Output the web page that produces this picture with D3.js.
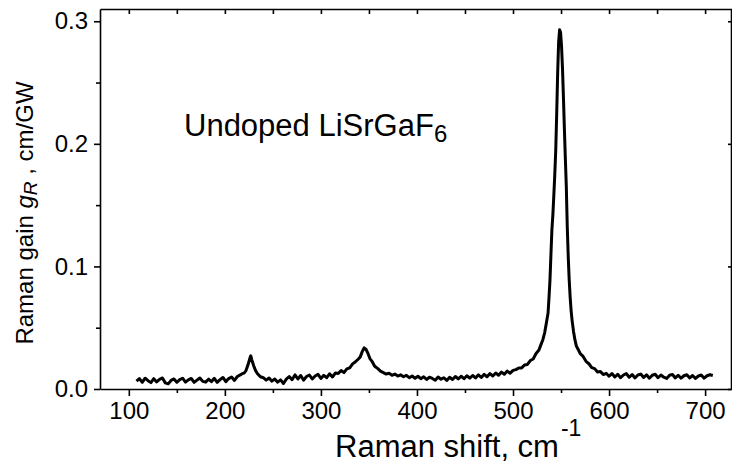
<!DOCTYPE html>
<html>
<head>
<meta charset="utf-8">
<script src="https://cdn.jsdelivr.net/npm/d3@7"></script>
<style>
  html, body { margin: 0; padding: 0; background: #fff; }
  svg { display: block; font-family: "Liberation Sans", Arial, sans-serif; }
</style>
</head>
<body>
<svg id="chart" width="732" height="467"></svg>
<script>
// ---- data ----
const shift = [
  108,111,114,117,120,123,126,129,132,135,138,141,144,147,150,153,156,159,162,165,
  168,171,174,177,180,183,186,189,192,195,198,201,204,207,210,213,216,218,220,222,
  224,226,227,228,230,232,234,237,240,243,246,249,252,255,258,261,264,267,270,273,
  276,279,282,285,288,291,294,297,300,303,306,309,312,315,318,321,324,327,330,333,
  336,339,341,343,345,347,349,351,353,356,359,362,365,368,371,374,377,380,383,386,
  389,392,395,398,401,404,407,410,413,416,419,422,425,428,431,434,437,440,443,446,
  449,452,455,458,461,464,467,470,473,476,479,482,485,488,491,494,497,500,503,506,
  509,512,515,518,521,524,527,529,531,533,535,536.5,537.5,538.5,539.5,540.5,541.5,542.5,543.5,544.5,
  545.5,546.5,547.5,548.5,549.5,550.5,551.5,552.5,553.5,554.5,555.5,556.5,557.5,558.5,559.5,560.5,561.5,563,564.5,566,
  568,570,573,576,579,582,585,588,591,594,597,600,603,606,609,612,615,618,621,624,
  627,630,633,636,639,642,645,648,651,654,657,660,663,666,669,672,675,678,681,684,
  687,690,693,696,699,702,705,708
];
const gain = [
  0.0065,0.0085,0.0055,0.0088,0.0068,0.0052,0.0084,0.0058,0.0079,0.0090,0.0050,0.0042,0.0070,0.0082,0.0055,0.0076,0.0088,0.0056,0.0074,0.0086,
  0.0054,0.0072,0.0090,0.0062,0.0056,0.0080,0.0060,0.0087,0.0054,0.0076,0.0094,0.0060,0.0085,0.0098,0.0070,0.0102,0.0115,0.0125,0.0130,0.0150,
  0.0195,0.0250,0.0270,0.0240,0.0190,0.0150,0.0125,0.0100,0.0092,0.0072,0.0090,0.0064,0.0082,0.0056,0.0074,0.0045,0.0080,0.0102,0.0076,0.0115,
  0.0082,0.0110,0.0072,0.0102,0.0114,0.0082,0.0106,0.0120,0.0086,0.0112,0.0092,0.0124,0.0098,0.0130,0.0126,0.0150,0.0134,0.0164,0.0172,0.0205,
  0.0222,0.0245,0.0262,0.0305,0.0335,0.0322,0.0290,0.0248,0.0228,0.0186,0.0168,0.0146,0.0134,0.0122,0.0128,0.0112,0.0122,0.0106,0.0116,0.0100,
  0.0112,0.0092,0.0106,0.0088,0.0104,0.0084,0.0100,0.0078,0.0096,0.0086,0.0072,0.0098,0.0080,0.0092,0.0070,0.0096,0.0078,0.0102,0.0082,0.0104,
  0.0084,0.0108,0.0088,0.0110,0.0090,0.0116,0.0094,0.0120,0.0100,0.0126,0.0106,0.0130,0.0112,0.0138,0.0120,0.0146,0.0128,0.0152,0.0158,0.0172,
  0.0172,0.0196,0.0200,0.0232,0.0245,0.0290,0.0318,0.0360,0.0400,0.0460,0.0550,0.0620,0.0750,0.0890,0.1100,0.1300,0.1420,0.1580,0.1750,0.1950,
  0.2250,0.2580,0.2830,0.2930,0.2910,0.2800,0.2620,0.2380,0.2120,0.1880,0.1650,0.1320,0.1080,0.0890,0.0750,0.0640,0.0560,0.0470,0.0400,0.0350,
  0.0320,0.0288,0.0266,0.0226,0.0206,0.0174,0.0166,0.0138,0.0142,0.0118,0.0128,0.0104,0.0126,0.0098,0.0120,0.0092,0.0114,0.0126,0.0096,0.0118,
  0.0090,0.0114,0.0122,0.0094,0.0116,0.0088,0.0112,0.0120,0.0092,0.0114,0.0096,0.0086,0.0112,0.0118,0.0090,0.0112,0.0088,0.0108,0.0116,0.0090,
  0.0110,0.0086,0.0106,0.0114,0.0088,0.0108,0.0116,0.0110
];
const xMajorTicks = [100, 200, 300, 400, 500, 600, 700];
const xMinorTicks = [150, 250, 350, 450, 550, 650];
const yMajorTicks = [0.0, 0.1, 0.2, 0.3];
const yMinorTicks = [0.05, 0.15, 0.25];
const xDomain = [70, 728];
const yDomain = [0, 0.31];
const annotation = "Undoped LiSrGaF";
const annotationSub = "6";

// ---- layout ----
const svg = d3.select("#chart");
const mLeft = 100, mRight = 732, mTop = 9, mBottom = 389;
const x = d3.scaleLinear().domain(xDomain).range([mLeft, mRight]);
const y = d3.scaleLinear().domain(yDomain).range([mBottom, mTop]);
const fmt = d3.format(".1f");
const axisStroke = 1.6;

function styleAxis(g) {
  g.selectAll("path, line").attr("stroke", "#000").attr("stroke-width", axisStroke);
  g.selectAll("text").attr("fill", "#000").attr("font-size", 24)
   .attr("font-family", "'Liberation Sans', Arial, sans-serif");
}

// bottom major
svg.append("g").attr("transform", `translate(0,${mBottom})`)
  .call(d3.axisBottom(x).tickValues(xMajorTicks).tickSize(7).tickSizeOuter(0).tickPadding(6).tickFormat(d3.format("d")))
  .call(styleAxis);
// bottom minor
svg.append("g").attr("transform", `translate(0,${mBottom})`)
  .call(d3.axisBottom(x).tickValues(xMinorTicks).tickSize(4).tickFormat(""))
  .call(styleAxis).call(g => g.select(".domain").remove());
// top ticks (inward)
svg.append("g").attr("transform", `translate(0,${mTop})`)
  .call(d3.axisBottom(x).tickValues(xMajorTicks.concat(xMinorTicks)).tickSize(5).tickSizeOuter(0).tickFormat(""))
  .call(styleAxis);
// left major
svg.append("g").attr("transform", `translate(${mLeft},0)`)
  .call(d3.axisLeft(y).tickValues(yMajorTicks).tickSize(6).tickSizeOuter(0).tickPadding(6).tickFormat(fmt))
  .call(styleAxis);
// left minor
svg.append("g").attr("transform", `translate(${mLeft},0)`)
  .call(d3.axisLeft(y).tickValues(yMinorTicks).tickSize(4).tickFormat(""))
  .call(styleAxis).call(g => g.select(".domain").remove());
// right ticks (inward)
svg.append("g").attr("transform", `translate(${mRight - 1},0)`)
  .call(d3.axisLeft(y).tickValues(yMajorTicks).tickSize(3).tickSizeOuter(0).tickFormat(""))
  .call(styleAxis);

// ---- spectrum line ----
const pts = shift.map((s, i) => [s, gain[i]]);
svg.append("path")
  .datum(pts)
  .attr("fill", "none")
  .attr("stroke", "#000")
  .attr("stroke-width", 3)
  .attr("stroke-linejoin", "round")
  .attr("d", d3.line().x(d => x(d[0])).y(d => y(d[1])));

// ---- annotation ----
const ann = svg.append("text").attr("x", 184).attr("y", 136)
  .attr("font-size", 31).attr("fill", "#000");
ann.append("tspan").text(annotation);
ann.append("tspan").attr("font-size", 24).attr("dy", 6).text(annotationSub);

// ---- x title ----
const xt = svg.append("text").attr("x", 335).attr("y", 457)
  .attr("font-size", 31).attr("fill", "#000");
xt.append("tspan").text("Raman shift, cm");
xt.append("tspan").attr("font-size", 23).attr("dx", 2).attr("dy", -21).text("-1");

// ---- y title ----
const yt = svg.append("text")
  .attr("transform", "translate(33,213) rotate(-90)")
  .attr("text-anchor", "middle")
  .attr("font-size", 24).attr("fill", "#000");
yt.append("tspan").text("Raman gain ");
yt.append("tspan").attr("font-style", "italic").text("g");
yt.append("tspan").attr("font-style", "italic").attr("font-size", 19).attr("dy", 4).text("R");
yt.append("tspan").attr("dy", -4).text(" , cm/GW");
</script>
</body>
</html>
